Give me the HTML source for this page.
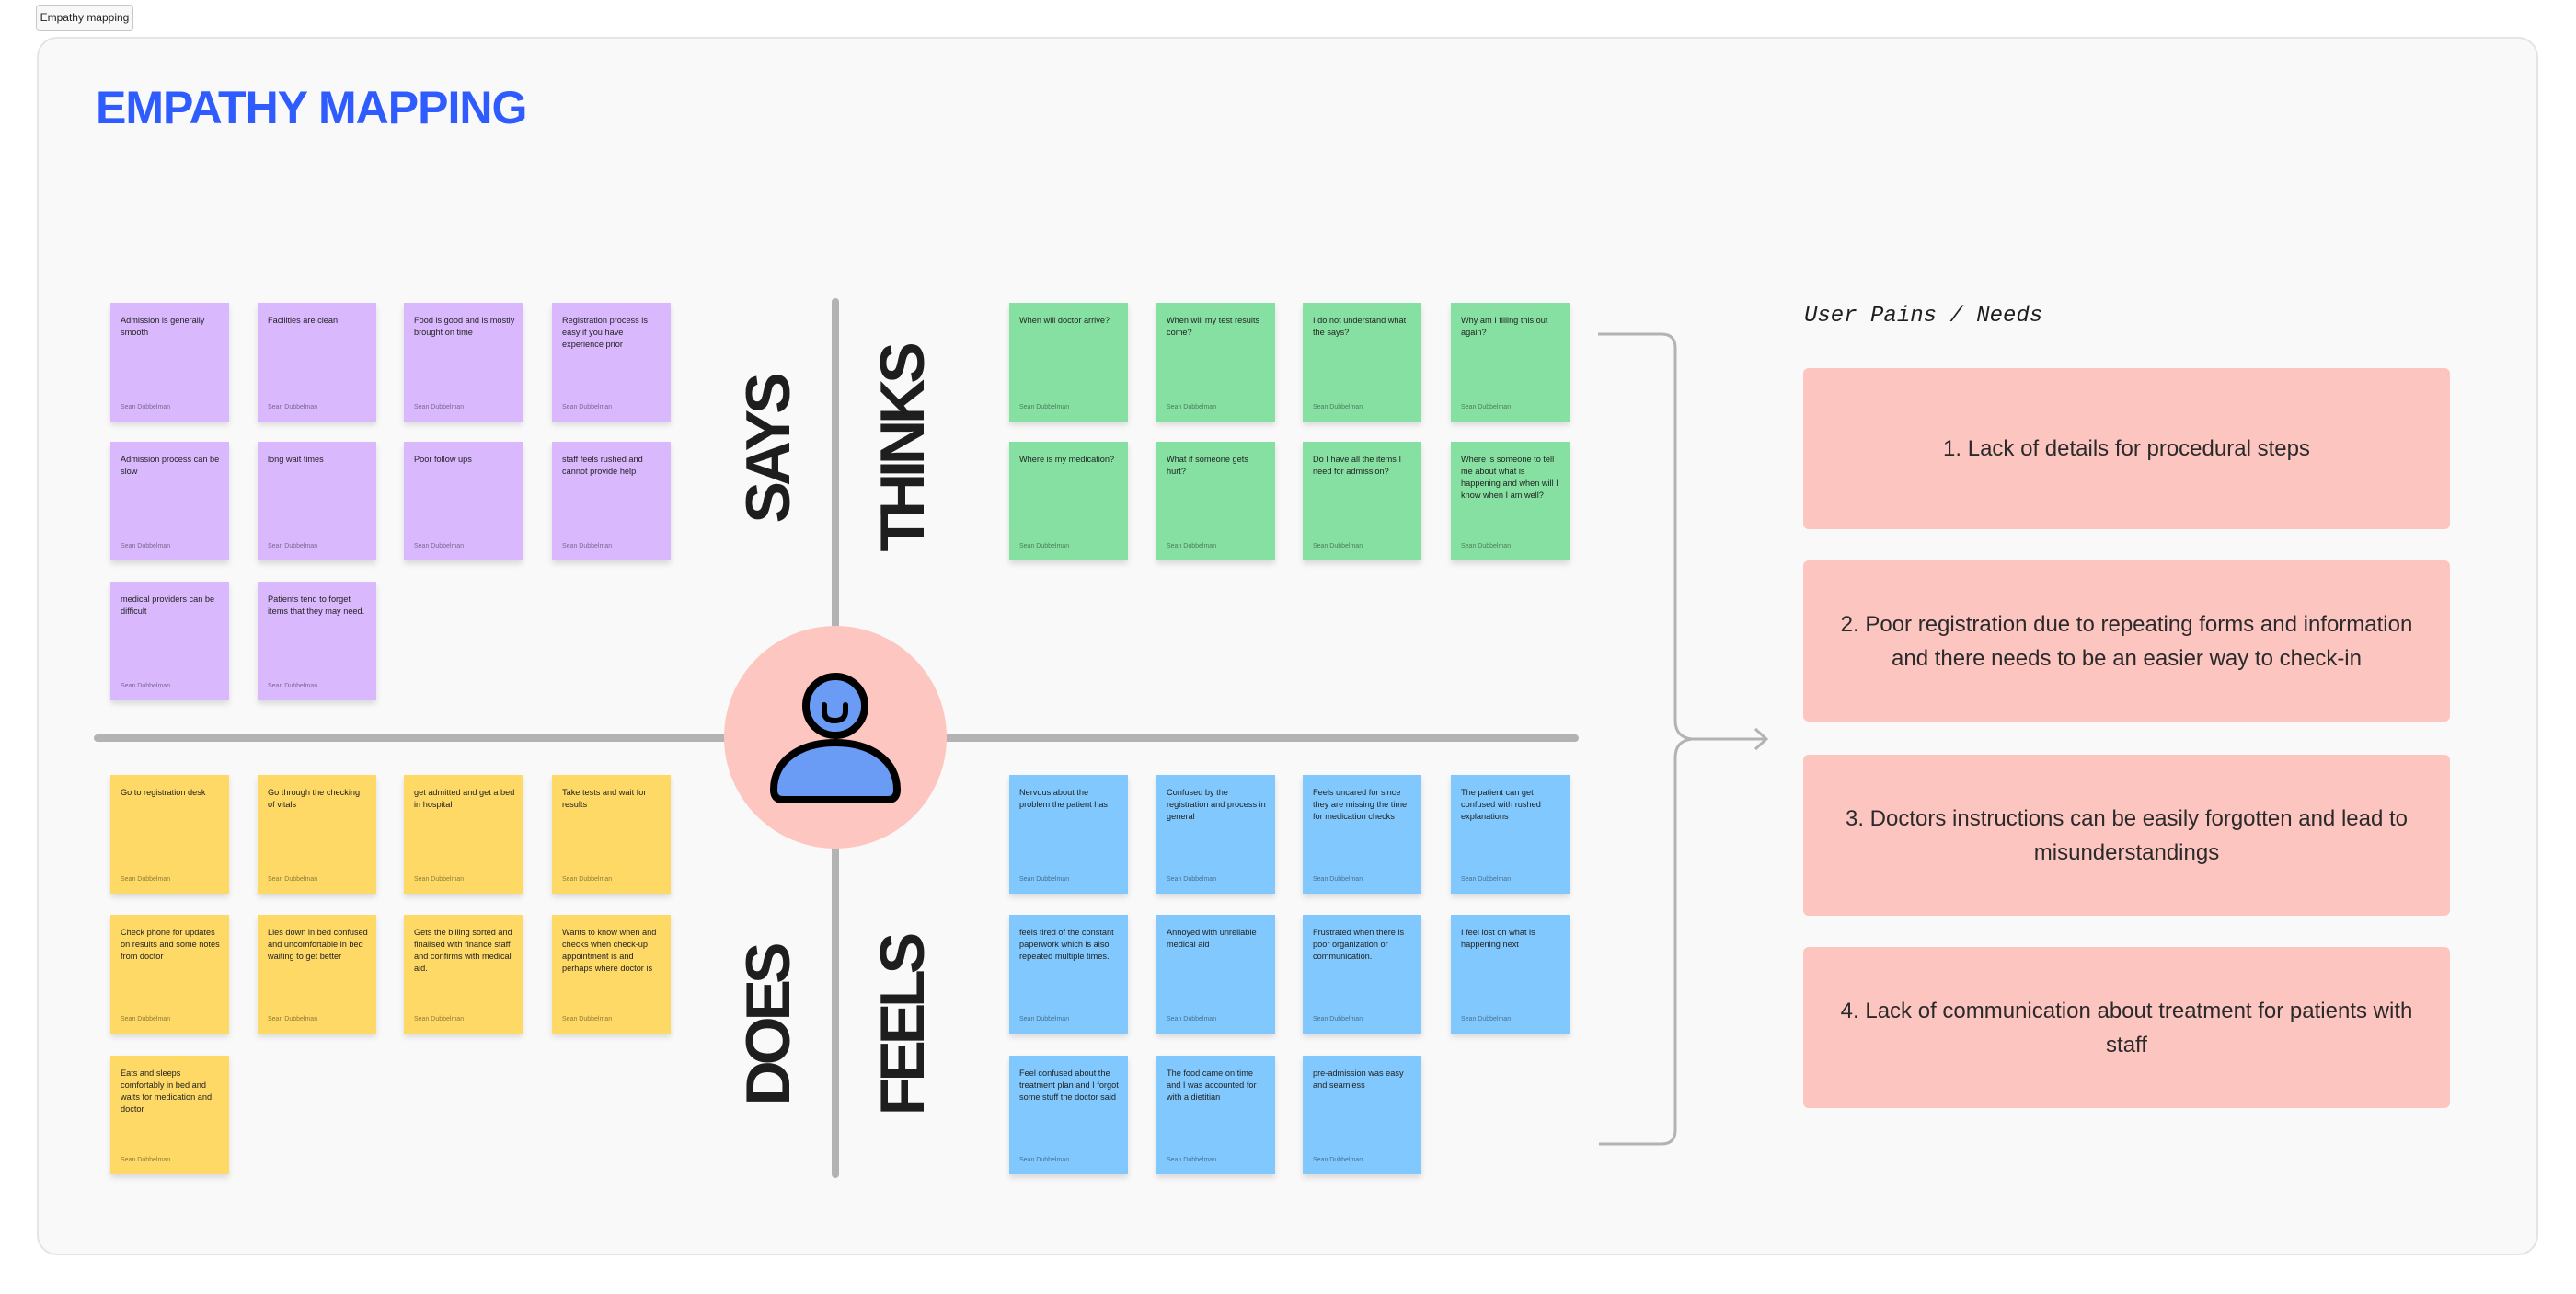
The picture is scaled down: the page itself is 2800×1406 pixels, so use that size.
<!DOCTYPE html>
<html><head><meta charset="utf-8"><style>
*{margin:0;padding:0;box-sizing:border-box}
body{width:2800px;height:1406px;background:#fff;position:relative;overflow:hidden;font-family:"Liberation Sans",Arial,sans-serif}
.abs{position:absolute}
.tag{left:39px;top:5px;width:106px;height:29px;border:1px solid #c8c8c8;border-radius:4px;background:#f8f8f8;font-size:12px;line-height:27px;text-align:center;color:#222;white-space:nowrap}
.frame{left:40px;top:40px;width:2719px;height:1324px;background:#f9f9f9;border:2px solid #e4e4e4;border-radius:22px}
.title{left:104px;top:88px;font-size:50px;font-weight:bold;color:#2f5cff;letter-spacing:-1px;white-space:nowrap}
.n{position:absolute;width:129px;height:129px;box-shadow:0 4px 6px rgba(0,0,0,.12);padding:13px 8px 0 11px;font-size:9.2px;line-height:13px;color:#222}
.n i{position:absolute;left:11px;top:107px;font-style:normal;font-size:7px;color:rgba(0,0,0,.45)}
.p{background:#d9b8fd}.g{background:#86e0a1}.y{background:#fed966}.b{background:#80c8fd}
.lab{position:absolute;font-size:68px;font-weight:bold;color:#1e1e1e;letter-spacing:-5px;transform:translate(-50%,-50%) rotate(-90deg);white-space:nowrap;line-height:1}
.pk{position:absolute;left:1960px;width:703px;height:175px;background:#fdc5c0;border-radius:6px;display:flex;align-items:center;justify-content:center;text-align:center;font-size:24px;line-height:37px;color:#2a2a2a;padding:0 20px}
</style></head><body>
<div class="abs tag">Empathy mapping</div>
<div class="abs frame"></div>
<div class="abs title">EMPATHY MAPPING</div>

<svg class="abs" style="left:0;top:0" width="2800" height="1406">
<line x1="908" y1="328" x2="908" y2="1276" stroke="#b3b3b3" stroke-width="8" stroke-linecap="round"/>
<line x1="106" y1="802" x2="1712" y2="802" stroke="#b3b3b3" stroke-width="8" stroke-linecap="round"/>
<circle cx="908" cy="801" r="121" fill="#fec6c0"/>
<path d="M851 869 L965 869 Q975 869 975 858 C975 826 946 807 908 807 C870 807 841 826 841 858 Q841 869 851 869 Z" fill="#6b9cf5" stroke="#000" stroke-width="8" stroke-linejoin="round"/>
<circle cx="908" cy="767" r="32" fill="#6b9cf5" stroke="#000" stroke-width="8"/>
<path d="M896 766 L896 773 Q896 783 907 783 Q919 783 919 773 L919 766" fill="none" stroke="#000" stroke-width="6" stroke-linecap="round"/>
<path d="M1737 363 L1806 363 Q1821 363 1821 378 L1821 783 Q1821 801 1839 803 Q1821 805 1821 823 L1821 1228 Q1821 1243 1806 1243 L1738 1243" fill="none" stroke="#b3b3b3" stroke-width="3"/>
<line x1="1839" y1="803" x2="1919" y2="803" stroke="#b3b3b3" stroke-width="3"/>
<path d="M1908 792 L1920 803 L1908 814" fill="none" stroke="#b3b3b3" stroke-width="3"/>
</svg>

<div class="lab" style="left:835px;top:489px">SAYS</div>
<div class="lab" style="left:981px;top:488px">THINKS</div>
<div class="lab" style="left:835px;top:1115px">DOES</div>
<div class="lab" style="left:981px;top:1115px">FEELS</div>

<div class="n p" style="left:120px;top:329px">Admission is generally smooth<i>Sean Dubbelman</i></div>
<div class="n p" style="left:280px;top:329px">Facilities are clean<i>Sean Dubbelman</i></div>
<div class="n p" style="left:439px;top:329px">Food is good and is mostly brought on time<i>Sean Dubbelman</i></div>
<div class="n p" style="left:600px;top:329px">Registration process is easy if you have experience prior<i>Sean Dubbelman</i></div>
<div class="n p" style="left:120px;top:480px">Admission process can be slow<i>Sean Dubbelman</i></div>
<div class="n p" style="left:280px;top:480px">long wait times<i>Sean Dubbelman</i></div>
<div class="n p" style="left:439px;top:480px">Poor follow ups<i>Sean Dubbelman</i></div>
<div class="n p" style="left:600px;top:480px">staff feels rushed and cannot provide help<i>Sean Dubbelman</i></div>
<div class="n p" style="left:120px;top:632px">medical providers can be difficult<i>Sean Dubbelman</i></div>
<div class="n p" style="left:280px;top:632px">Patients tend to forget items that they may need.<i>Sean Dubbelman</i></div>

<div class="n g" style="left:1097px;top:329px">When will doctor arrive?<i>Sean Dubbelman</i></div>
<div class="n g" style="left:1257px;top:329px">When will my test results come?<i>Sean Dubbelman</i></div>
<div class="n g" style="left:1416px;top:329px">I do not understand what the says?<i>Sean Dubbelman</i></div>
<div class="n g" style="left:1577px;top:329px">Why am I filling this out again?<i>Sean Dubbelman</i></div>
<div class="n g" style="left:1097px;top:480px">Where is my medication?<i>Sean Dubbelman</i></div>
<div class="n g" style="left:1257px;top:480px">What if someone gets hurt?<i>Sean Dubbelman</i></div>
<div class="n g" style="left:1416px;top:480px">Do I have all the items I need for admission?<i>Sean Dubbelman</i></div>
<div class="n g" style="left:1577px;top:480px">Where is someone to tell me about what is happening and when will I know when I am well?<i>Sean Dubbelman</i></div>

<div class="n y" style="left:120px;top:842px">Go to registration desk<i>Sean Dubbelman</i></div>
<div class="n y" style="left:280px;top:842px">Go through the checking of vitals<i>Sean Dubbelman</i></div>
<div class="n y" style="left:439px;top:842px">get admitted and get a bed in hospital<i>Sean Dubbelman</i></div>
<div class="n y" style="left:600px;top:842px">Take tests and wait for results<i>Sean Dubbelman</i></div>
<div class="n y" style="left:120px;top:994px">Check phone for updates on results and some notes from doctor<i>Sean Dubbelman</i></div>
<div class="n y" style="left:280px;top:994px">Lies down in bed confused and uncomfortable in bed waiting to get better<i>Sean Dubbelman</i></div>
<div class="n y" style="left:439px;top:994px">Gets the billing sorted and finalised with finance staff and confirms with medical aid.<i>Sean Dubbelman</i></div>
<div class="n y" style="left:600px;top:994px">Wants to know when and checks when check-up appointment is and perhaps where doctor is<i>Sean Dubbelman</i></div>
<div class="n y" style="left:120px;top:1147px">Eats and sleeps comfortably in bed and waits for medication and doctor<i>Sean Dubbelman</i></div>

<div class="n b" style="left:1097px;top:842px">Nervous about the problem the patient has<i>Sean Dubbelman</i></div>
<div class="n b" style="left:1257px;top:842px">Confused by the registration and process in general<i>Sean Dubbelman</i></div>
<div class="n b" style="left:1416px;top:842px">Feels uncared for since they are missing the time for medication checks<i>Sean Dubbelman</i></div>
<div class="n b" style="left:1577px;top:842px">The patient can get confused with rushed explanations<i>Sean Dubbelman</i></div>
<div class="n b" style="left:1097px;top:994px">feels tired of the constant paperwork which is also repeated multiple times.<i>Sean Dubbelman</i></div>
<div class="n b" style="left:1257px;top:994px">Annoyed with unreliable medical aid<i>Sean Dubbelman</i></div>
<div class="n b" style="left:1416px;top:994px">Frustrated when there is poor organization or communication.<i>Sean Dubbelman</i></div>
<div class="n b" style="left:1577px;top:994px">I feel lost on what is happening next<i>Sean Dubbelman</i></div>
<div class="n b" style="left:1097px;top:1147px">Feel confused about the treatment plan and I forgot some stuff the doctor said<i>Sean Dubbelman</i></div>
<div class="n b" style="left:1257px;top:1147px">The food came on time and I was accounted for with a dietitian<i>Sean Dubbelman</i></div>
<div class="n b" style="left:1416px;top:1147px">pre-admission was easy and seamless<i>Sean Dubbelman</i></div>

<div class="abs" style="left:1961px;top:330px;font-family:'Liberation Mono',monospace;font-style:italic;font-size:24px;color:#1e1e1e;white-space:nowrap">User Pains / Needs</div>
<div class="pk" style="top:400px">1. Lack of details for procedural steps</div>
<div class="pk" style="top:609px">2. Poor registration due to repeating forms and information and there needs to be an easier way to check-in</div>
<div class="pk" style="top:820px">3. Doctors instructions can be easily forgotten and lead to misunderstandings</div>
<div class="pk" style="top:1029px">4. Lack of communication about treatment for patients with staff</div>
</body></html>
